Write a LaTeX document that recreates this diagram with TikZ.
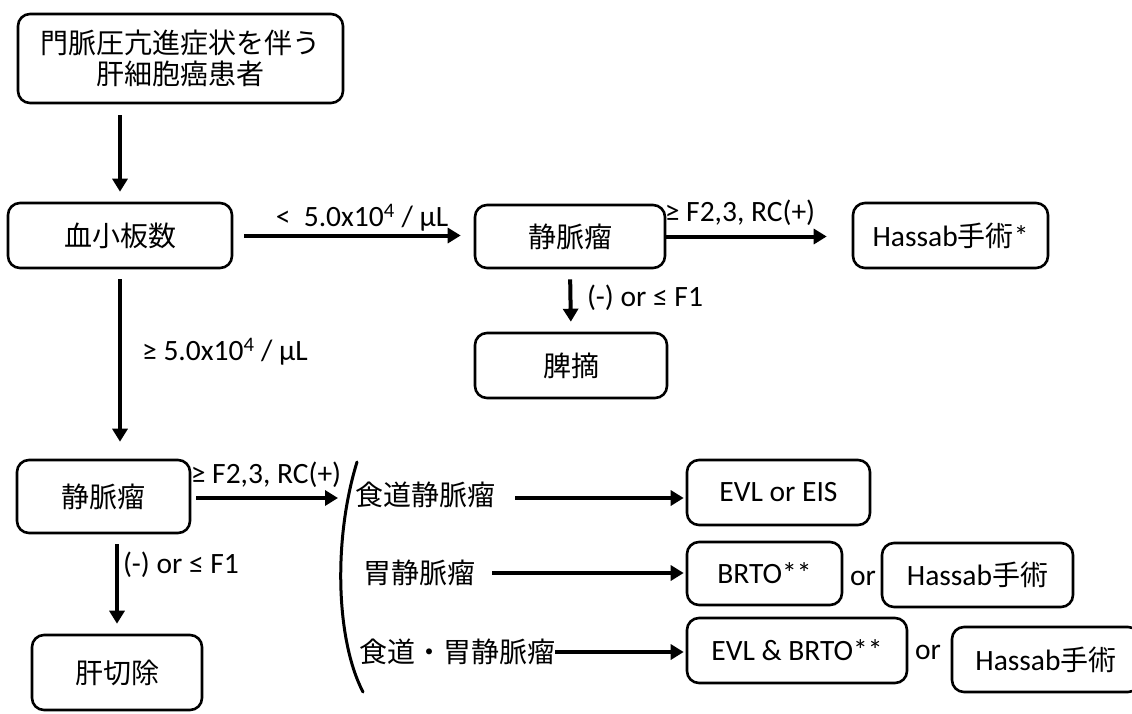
\documentclass[tikz,border=0pt]{standalone}
\usepackage{fontspec}
\setmainfont{Carlito}
\newfontfamily\jp{Noto Sans CJK JP}
\usetikzlibrary{arrows.meta}
\tikzset{
  box/.style={draw, line width=2.6pt, rounded corners=12pt, inner sep=0pt, align=center},
  arr/.style={line width=4pt, -{Triangle[length=13pt,width=15pt]}},
  lbl/.style={inner sep=0pt},
  jpf/.style={font=\fontsize{28}{31}\selectfont\jp},
  brk/.style={line width=3pt, line cap=round},
}
\begin{document}
\begin{tikzpicture}[x=1pt,y=-1pt,font=\fontsize{29.5}{32}\selectfont]
\useasboundingbox (0,0) rectangle (1132,713);
\clip (0,0) rectangle (1132,713);
% boxes
\node[box, jpf, minimum width=325pt, minimum height=89pt] (top) at (180.5,58.5) {門脈圧亢進症状を伴う\\肝細胞癌患者};
\node[box, jpf, minimum width=224pt, minimum height=65pt] (plt) at (120,235.5) {血小板数};
\node[box, jpf, minimum width=190pt, minimum height=63pt] (v1) at (570,236.5) {静脈瘤};
\node[box, minimum width=195pt, minimum height=65pt] (h1) at (950.5,235.5) {Hassab{\jp\fontsize{28}{31}\selectfont 手術}*};
\node[box, jpf, minimum width=192pt, minimum height=65pt] (hi) at (571,365.5) {脾摘};
\node[box, jpf, minimum width=173pt, minimum height=73pt] (v2) at (103.5,496.5) {静脈瘤};
\node[box, jpf, minimum width=170pt, minimum height=75pt] (kan) at (117,672.5) {肝切除};
\node[box, minimum width=183pt, minimum height=65pt] (evl) at (778.5,492.5) {EVL or EIS};
\node[box, minimum width=155pt, minimum height=63pt] (brto) at (764.5,573.5) {BRTO**};
\node[box, minimum width=191pt, minimum height=64pt] (h2) at (977.5,575) {Hassab{\jp\fontsize{28}{31}\selectfont 手術}};
\node[box, minimum width=220pt, minimum height=65pt] (evlb) at (797,650.5) {EVL \& BRTO**};
\node[box, minimum width=188pt, minimum height=65pt] (h3) at (1046,659.5) {Hassab{\jp\fontsize{28}{31}\selectfont 手術}};
% text items
\node[lbl, jpf] (t1) at (425,495) {食道静脈瘤};
\node[lbl, jpf] (t2) at (419,573) {胃静脈瘤};
\node[lbl, jpf] (t3) at (457,652) {食道・胃静脈瘤};
\node[lbl] (or1) at (863,578) {or};
\node[lbl] (or2) at (928,652) {or};
% labels
\node[lbl] (l1) at (362,218) {<\ \ 5.0x10\textsuperscript{4} / μL};
\node[lbl] (l2) at (740,213) {≥ F2,3, RC(+)};
\node[lbl] (l3) at (645,298) {(-) or ≤ F1};
\node[lbl] (l4) at (225,352) {≥ 5.0x10\textsuperscript{4} / μL};
\node[lbl] (l5) at (266,475) {≥ F2,3, RC(+)};
\node[lbl] (l6) at (181,565) {(-) or ≤ F1};
% bracket
\coordinate (bt) at (357,462);
\coordinate (bb) at (363,692);
\draw[brk] (bt) .. controls (333,540) and (336,640) .. (bb);
\coordinate (ba) at (338,498);
% connectors
\draw[arr, shorten <=11pt, shorten >=10pt] (plt.north |- top.south) -- (plt.north);
\draw[arr, shorten <=11pt, shorten >=13pt] (plt.east) -- (plt.east -| v1.west);
\draw[arr, shorten >=25pt] (v1.east) -- (v1.east -| h1.west);
\draw[arr, shorten <=10pt, shorten >=10pt] (v1.south) -- (hi.north);
\draw[arr, shorten <=10pt, shorten >=17pt] (plt.south) -- (plt.south |- v2.north);
\draw[arr, shorten <=10pt, shorten >=10pt] (kan.north |- v2.south) -- (kan.north);
\draw[arr, shorten <=5pt] (v2.east |- ba) -- (ba);
\draw[arr, shorten <=20pt, shorten >=2pt] ([yshift=-3pt]t1.east) -- ([yshift=-3pt]t1.east -| evl.west);
\draw[arr, shorten <=17pt, shorten >=2pt] (t2.east) -- (t2.east -| brto.west);
\draw[arr, shorten >=2pt] (t3.east) -- (t3.east -| evlb.west);
\end{tikzpicture}
\end{document}
